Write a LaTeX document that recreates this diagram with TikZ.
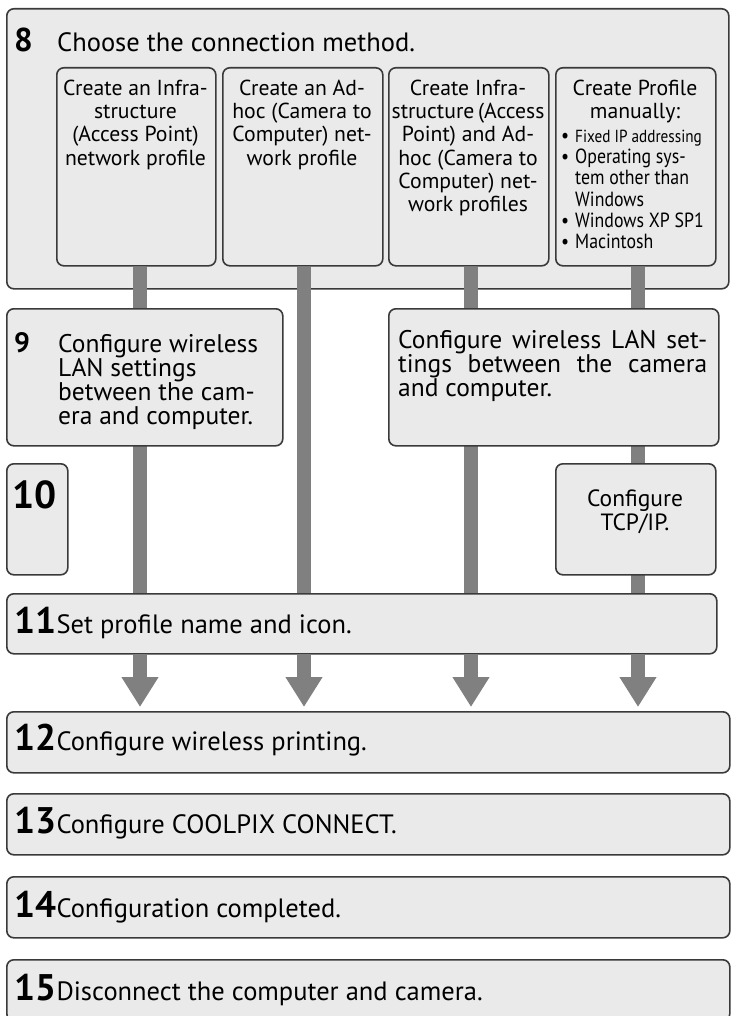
\documentclass[tikz,border=0pt]{standalone}
\usepackage{fontspec}
\setmainfont{PT Sans}
\newfontfamily\condfont[FakeStretch=0.87]{PT Sans}
\usetikzlibrary{arrows.meta, positioning}
\definecolor{PanelFill}{RGB}{234,234,234}
\definecolor{PanelLine}{RGB}{58,58,58}
\definecolor{LaneGray}{RGB}{128,128,128}
\pgfdeclarelayer{back}
\pgfdeclarelayer{lanes}
\pgfsetlayers{back,lanes,main}

\begin{document}
\begin{tikzpicture}[x=1pt,y=-1pt,
        pbox/.style={draw=PanelLine,fill=PanelFill,line width=1.6pt,rounded corners=7pt,
                     anchor=north west,inner sep=0pt},
        txt/.style={inner sep=0pt,align=center,font=\fontsize{21.7}{23.3}\selectfont},
        num/.style={inner sep=0pt,anchor=base west,font=\bfseries\fontsize{37}{37}\selectfont},
        stxt/.style={inner sep=0pt,anchor=base west,font=\fontsize{26.5}{26.5}\selectfont},
        lane/.style={draw=LaneGray,line width=14pt},
        flow/.style={draw=LaneGray,line width=14pt,-{Triangle[width=35pt,length=30pt]},
                     shorten >=4pt}
      ]
        \useasboundingbox (0,0) rectangle (730,1016);
        \begin{pgfonlayer}{back}
          \node[pbox,minimum width=722pt,minimum height=280pt] (b8) at (6,8) {};
        \end{pgfonlayer}
        \node[num,font=\bfseries\fontsize{33}{33}\selectfont] (n8) at (14,52) {8};
        \node[stxt] (h8) at (57,52) {Choose the connection method.};
        % connection methods
        \node[pbox,minimum width=159pt,minimum height=198pt] (pA) at (56,67) {};
        \node[pbox,minimum width=160pt,minimum height=198pt] (pB) at (222,67) {};
        \node[pbox,minimum width=160pt,minimum height=198pt] (pC) at (388,67) {};
        \node[pbox,minimum width=160pt,minimum height=198pt] (pD) at (555,67) {};
        \node[txt,anchor=north] (tA) at (135.5,79.5) {Create an Infra-\\structure\\(Access Point)\\network profile};
        \node[txt,anchor=north] (tB) at (302,79.5) {Create an Ad-\\hoc (Camera to\\Computer) net-\\work profile};
        \node[txt,anchor=north] (tC) at (468,79.5) {Create Infra-\\structure\,(Access\\Point) and Ad-\\hoc (Camera to\\Computer) net-\\work profiles};
        \node[txt,anchor=north] (tD) at (635,79.5) {Create Profile\\manually:};
        \node[txt,anchor=north west,align=left,font=\condfont\fontsize{20.5}{21.2}\selectfont] (lD) at (561,130)
          {\makebox[14pt][l]{\textbullet}{\fontsize{17.5}{21.2}\selectfont Fixed IP addressing}\\
           \makebox[14pt][l]{\textbullet}Operating sys-\\
           \hspace*{14pt}tem other than\\
           \hspace*{14pt}Windows\\
           \makebox[14pt][l]{\textbullet}Windows XP SP1\\
           \makebox[14pt][l]{\textbullet}Macintosh};
        % wireless LAN and TCP/IP
        \node[pbox,minimum width=276pt,minimum height=137pt] (b9) at (6,308) {};
        \node[pbox,minimum width=330pt,minimum height=137pt] (b9r) at (388,308) {};
        \node[num,font=\bfseries\fontsize{28}{28}\selectfont] (n9) at (14,352) {9};
        \node[txt,anchor=north west,align=left,font=\fontsize{25.5}{24}\selectfont] (t9) at (58,334)
          {Configure wireless\\LAN settings\\between the cam-\\era and computer.};
        \node[txt,anchor=north west,align=left,font=\fontsize{25.5}{24}\selectfont] (t9r) at (398,330)
          {\makebox[309pt][s]{Configure wireless LAN set-}\\\makebox[309pt][s]{tings between the camera}\\and computer.};
        \node[pbox,minimum width=61pt,minimum height=111pt] (b10) at (6,463) {};
        \node[num,font=\bfseries\fontsize{39}{39}\selectfont] (n10) at (12,508) {10};
        \node[pbox,minimum width=160pt,minimum height=111pt] (bT) at (555,463) {};
        \node[txt,anchor=north,font=\fontsize{23.5}{24}\selectfont] (tT) at (635,490) {Configure\\TCP/IP.};
        % remaining steps
        \node[pbox,minimum width=710pt,minimum height=60pt] (b11) at (6,593) {};
        \node[pbox,minimum width=723pt,minimum height=61pt] (b12) at (6,711) {};
        \node[pbox,minimum width=723pt,minimum height=61pt] (b13) at (6,793) {};
        \node[pbox,minimum width=723pt,minimum height=61pt] (b14) at (6,876) {};
        \node[pbox,minimum width=723pt,minimum height=61pt] (b15) at (6,959) {};
        \node[num] (n11) at (14,633) {11}; \node[stxt] (s11) at (n11.base east) {Set profile name and icon.};
        \node[num] (n12) at (14,750) {12}; \node[stxt] (s12) at (n12.base east) {Configure wireless printing.};
        \node[num] (n13) at (14,833) {13}; \node[stxt] (s13) at (n13.base east) {Configure COOLPIX CONNECT.};
        \node[num] (n14) at (14,917) {14}; \node[stxt] (s14) at (n14.base east) {Configuration completed.};
        \node[num] (n15) at (14,1000) {15}; \node[stxt] (s15) at (n15.base east) {Disconnect the computer and camera.};
        % lanes
        \coordinate (lA) at (140,0); \coordinate (lB) at (304,0);
        \coordinate (lC) at (471,0); \coordinate (lD) at (638,0);
        \begin{pgfonlayer}{lanes}
          \draw[lane] (lA |- pA.south)--(lA |- b11.north); \draw[lane] (lB |- pB.south)--(lB |- b11.north);
          \draw[lane] (lC |- pC.south)--(lC |- b11.north); \draw[lane] (lD |- pD.south)--(lD |- b11.north);
          \draw[flow] (lA |- b11.south)--(lA |- b12.north); \draw[flow] (lB |- b11.south)--(lB |- b12.north);
          \draw[flow] (lC |- b11.south)--(lC |- b12.north); \draw[flow] (lD |- b11.south)--(lD |- b12.north);
        \end{pgfonlayer}
      \end{tikzpicture}
\end{document}
